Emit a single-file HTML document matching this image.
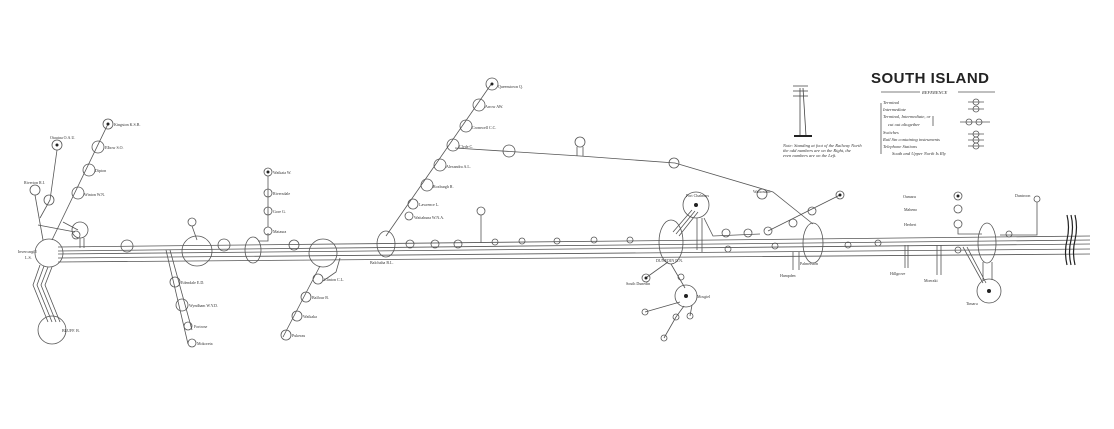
<!DOCTYPE html>
<html><head><meta charset="utf-8"><style>
html,body{margin:0;padding:0;background:#fff;}
svg{display:block}
text{font-family:"Liberation Serif",serif;fill:#333;}
</style></head><body>
<svg width="1114" height="429" viewBox="0 0 1114 429" xmlns="http://www.w3.org/2000/svg">
<rect width="1114" height="429" fill="#fff"/>
<g stroke="#555" stroke-width="0.8" fill="none">
<line x1="58" y1="247" x2="1090" y2="236"/>
<line x1="58" y1="251" x2="1090" y2="240"/>
<line x1="58" y1="254" x2="1090" y2="244"/>
<line x1="58" y1="258" x2="1090" y2="249"/>
<line x1="58" y1="262" x2="1090" y2="254"/>
<circle cx="49" cy="253" r="14"/>
<circle cx="52" cy="330" r="14"/>
<path d="M40 265 L33 285 L48 322 M44 266 L37 285 L52 322 M48 267 L41 285 L56 322 M52 267 L45 285 L60 322"/>
<path d="M52 240 L108 124"/>
<circle cx="108" cy="124" r="5"/><circle cx="98" cy="147" r="6"/><circle cx="89" cy="170" r="6"/><circle cx="78" cy="193" r="6"/>
<circle cx="57" cy="145" r="5"/><path d="M57 150 L50 200 L40 218"/>
<circle cx="35" cy="190" r="5"/><path d="M35 195 L43 240"/>
<circle cx="49" cy="200" r="5"/>
<path d="M38 225 L75 232 M63 222 L78 230"/>
<circle cx="80" cy="230" r="8"/><circle cx="76" cy="235" r="4"/><path d="M80 238 L80 248 M84 238 L84 248"/>
<circle cx="127" cy="246" r="6"/>
<circle cx="197" cy="251" r="15"/><circle cx="192" cy="222" r="4"/><path d="M192 226 L197 240"/>
<circle cx="224" cy="245" r="6"/>
<ellipse cx="253" cy="250" rx="8" ry="13"/>
<path d="M258 241 L268 241 L268 233"/>
<circle cx="268" cy="172" r="4"/><circle cx="268" cy="193" r="4"/><circle cx="268" cy="211" r="4"/><circle cx="268" cy="231" r="4"/>
<path d="M268 176 L268 227"/>
<circle cx="294" cy="245" r="5"/>
<circle cx="323" cy="253" r="14"/>
<path d="M166 250 L188 344 M170 250 L192 330"/>
<circle cx="175" cy="282" r="5"/><circle cx="182" cy="305" r="6"/><circle cx="188" cy="326" r="4"/><circle cx="192" cy="343" r="4"/>
<path d="M320 266 L283 337 M340 258 L336 272 L323 281"/>
<circle cx="318" cy="279" r="5"/><circle cx="306" cy="297" r="5"/><circle cx="297" cy="316" r="5"/><circle cx="286" cy="335" r="5"/>
<ellipse cx="386" cy="244" rx="9" ry="13"/>
<path d="M386 236 L492 83"/>
<circle cx="492" cy="84" r="6"/><circle cx="479" cy="105" r="6"/><circle cx="466" cy="126" r="6"/><circle cx="453" cy="145" r="6"/>
<circle cx="440" cy="165" r="6"/><circle cx="427" cy="185" r="6"/><circle cx="413" cy="204" r="5"/><circle cx="409" cy="216" r="4"/>
<path d="M455 148 L580 156 L675 163 L773 192 L813 224"/>
<circle cx="509" cy="151" r="6"/><circle cx="580" cy="142" r="5"/><path d="M577 147 L577 156 M583 147 L583 156"/>
<circle cx="674" cy="163" r="5"/>
<circle cx="410" cy="244" r="4"/><circle cx="435" cy="244" r="4"/><circle cx="458" cy="244" r="4"/>
<circle cx="481" cy="211" r="4"/><path d="M481 215 L481 243"/>
<circle cx="495" cy="242" r="3"/><circle cx="522" cy="241" r="3"/><circle cx="557" cy="241" r="3"/><circle cx="594" cy="240" r="3"/><circle cx="630" cy="240" r="3"/>
<ellipse cx="671" cy="242" rx="12" ry="22"/>
<circle cx="696" cy="205" r="13"/>
<path d="M673 232 L692 210 M676 234 L695 211 M679 236 L698 212"/>
<path d="M697 218 L697 250 M702 218 L702 252 M704 218 L713 236 L760 234"/>
<circle cx="726" cy="233" r="4"/><circle cx="748" cy="233" r="4"/><circle cx="768" cy="231" r="4"/>
<circle cx="793" cy="223" r="4"/><circle cx="812" cy="211" r="4"/><circle cx="840" cy="195" r="4"/>
<path d="M768 231 L840 195"/>
<circle cx="762" cy="194" r="5"/>
<ellipse cx="813" cy="243" rx="10" ry="20"/>
<path d="M793 252 L793 270 M799 252 L799 270"/>
<circle cx="728" cy="249" r="3"/><circle cx="775" cy="246" r="3"/><circle cx="848" cy="245" r="3"/><circle cx="878" cy="243" r="3"/>
<path d="M905 245 L905 268 M908 245 L908 268 M937 245 L937 275 M941 245 L941 275"/>
<path d="M671 264 L685 288 M668 262 L647 277"/>
<circle cx="646" cy="278" r="4"/><circle cx="681" cy="277" r="3"/>
<circle cx="686" cy="296" r="11"/>
<path d="M680 302 L645 312 M684 306 L676 317 L664 338 M692 305 L690 316"/>
<circle cx="645" cy="312" r="3"/><circle cx="676" cy="317" r="3"/><circle cx="690" cy="316" r="3"/><circle cx="664" cy="338" r="3"/>
<ellipse cx="987" cy="243" rx="9" ry="20"/>
<circle cx="989" cy="291" r="12"/>
<path d="M983 262 L983 280 M992 262 L992 280 M963 247 L983 283 M967 247 L986 283"/>
<circle cx="958" cy="250" r="3"/>
<circle cx="958" cy="196" r="4"/><circle cx="958" cy="209" r="4"/><circle cx="958" cy="224" r="4"/>
<path d="M958 228 L958 234 L982 234"/>
<circle cx="1037" cy="199" r="3"/><path d="M1037 202 L1037 235 L1000 235"/>
<circle cx="1009" cy="234" r="3"/>
<path d="M1067 215 q3 12 0 25 q-3 12 0 25 M1071 215 q3 12 0 25 q-3 12 0 25 M1075 215 q3 12 0 25 q-3 12 0 25" stroke="#222" stroke-width="1.2"/>
<path d="M800 88 L800 136 M803 88 L806 136 M793 86 L808 86 M793 91 L808 91 M793 96 L808 96" stroke="#444"/>
<path d="M794 136 L812 136" stroke="#222" stroke-width="2"/>
<path d="M881 92 L920 92 M958 92 L995 92 M881 103 L881 154 M933 116 L933 126"/>
<path d="M968 102 L984 102 M968 109 L984 109 M960 122 L990 122 M968 134 L984 134 M968 140 L984 140 M968 146 L984 146"/>
<circle cx="976" cy="102" r="3"/><circle cx="976" cy="109" r="3"/><circle cx="969" cy="122" r="3"/><circle cx="979" cy="122" r="3"/><circle cx="976" cy="134" r="3"/><circle cx="976" cy="140" r="3"/><circle cx="976" cy="146" r="3"/>
</g>
<g fill="#222">
<circle cx="108" cy="124" r="1.5"/><circle cx="57" cy="145" r="1.5"/><circle cx="268" cy="172" r="1.5"/><circle cx="492" cy="84" r="1.5"/>
<circle cx="696" cy="205" r="2"/><circle cx="686" cy="296" r="2"/><circle cx="989" cy="291" r="2"/><circle cx="958" cy="196" r="1.5"/>
<circle cx="840" cy="195" r="1.5"/><circle cx="646" cy="278" r="1.5"/>
</g>
<text x="871" y="83" font-weight="bold" font-size="15" style="font-family:'Liberation Sans',sans-serif;fill:#222" letter-spacing="0.5">SOUTH ISLAND</text>
<g font-size="4.5" font-style="italic">
<text x="922" y="94">REFERENCE</text>
<text x="883" y="104">Terminal</text><text x="883" y="111">Intermediate</text>
<text x="883" y="118">Terminal, Intermediate, or</text><text x="888" y="126">cut out altogether</text>
<text x="883" y="134">Switches</text><text x="883" y="141">Rail Stn containing instruments</text>
<text x="883" y="148">Telephone Stations</text><text x="892" y="155">South and Upper North Is Rly</text>
<text x="783" y="147">Note: Standing at foot of the Railway North</text>
<text x="783" y="152">the odd numbers are on the Right, the</text>
<text x="783" y="157">even numbers are on the Left.</text>
</g>
<g font-size="4">
<text x="18" y="253">Invercargill</text><text x="25" y="259">L.S.</text>
<text x="62" y="332">BLUFF. B.</text>
<text x="114" y="126">Kingston K.S.B.</text><text x="105" y="149">Elbow S.O.</text><text x="95" y="172">Dipton</text><text x="84" y="196">Winton W.N.</text>
<text x="50" y="139">Otautau O.A.U.</text><text x="24" y="184">Riverton R.I.</text>
<text x="498" y="88">Queenstown Q.</text><text x="485" y="108">Arrow AW.</text><text x="472" y="129">Cromwell C.C.</text><text x="459" y="148">Clyde C.</text>
<text x="446" y="168">Alexandra A.L.</text><text x="433" y="188">Roxburgh R.</text><text x="419" y="206">Lawrence L.</text><text x="414" y="219">Waitahuna W.N.A.</text>
<text x="370" y="264">Balclutha B.L.</text>
<text x="273" y="174">Waikaia W.</text><text x="273" y="195">Riversdale</text><text x="273" y="213">Gore G.</text><text x="273" y="233">Mataura</text>
<text x="181" y="284">Edendale E.D.</text><text x="189" y="307">Wyndham W.Y.D.</text><text x="194" y="328">Fortrose</text><text x="197" y="345">Mokoreta</text>
<text x="324" y="281">Clinton C.L.</text><text x="312" y="299">Balfour B.</text><text x="303" y="318">Waikaka</text><text x="292" y="337">Pukerau</text>
<text x="656" y="262">DUNEDIN D.N.</text><text x="686" y="197">Port Chalmers</text>
<text x="697" y="298">Mosgiel</text><text x="626" y="285">South Dunedin</text>
<text x="753" y="193">Waikouaiti</text><text x="800" y="265">Palmerston</text>
<text x="903" y="198">Oamaru</text><text x="904" y="211">Maheno</text><text x="904" y="226">Herbert</text>
<text x="1015" y="197">Duntroon</text><text x="966" y="305">Timaru</text>
<text x="780" y="277">Hampden</text><text x="890" y="275">Hillgrove</text><text x="924" y="282">Moeraki</text>
</g>
</svg>
</body></html>
